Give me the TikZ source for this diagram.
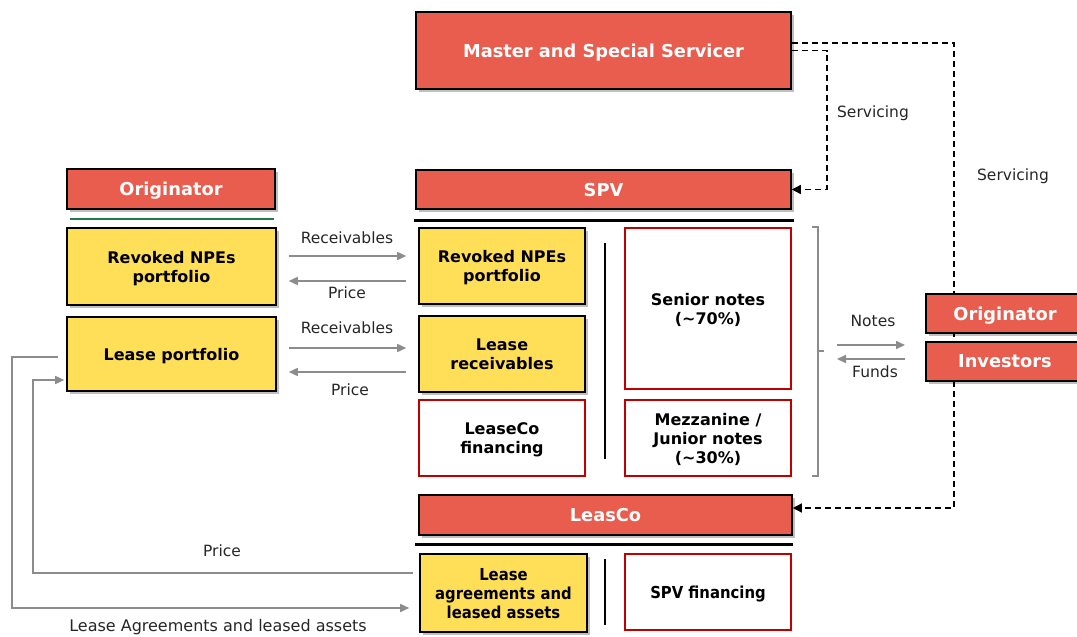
\documentclass[tikz,border=0pt]{standalone}
\usepackage{fontspec}
\setmainfont{DejaVu Sans}
\newfontfamily\condfont[FakeStretch=0.9]{DejaVu Sans}
\usetikzlibrary{shadows,arrows.meta}

\definecolor{hdrred}{HTML}{E95D4F}
\definecolor{assetyellow}{HTML}{FFDF57}
\definecolor{tranchered}{HTML}{C00000}
\definecolor{flowgray}{HTML}{8C8C8C}
\definecolor{rulegreen}{HTML}{1E7A4A}

\tikzset{
  boxshadow/.style={drop shadow={shadow xshift=2.5pt, shadow yshift=-2.5pt, opacity=0.25, fill=black}},
  header/.style={draw=black, line width=1.6pt, fill=hdrred, text=white, align=center, inner sep=0pt,
    text depth=0pt, font=\fontsize{17.8}{21}\selectfont\bfseries, boxshadow},
  asset/.style={draw=black, line width=1.6pt, fill=assetyellow, align=center, inner sep=0pt,
    text depth=0pt, font=\fontsize{16}{19}\selectfont\bfseries, boxshadow},
  tranche/.style={draw=tranchered, line width=1.3pt, fill=white, align=center, inner sep=0pt,
    text depth=0pt, font=\fontsize{16}{19}\selectfont\bfseries},
  condbold/.style={font=\condfont\fontsize{16.5}{19}\selectfont\bfseries},
  flow/.style={draw=flowgray, line width=1.6pt, -{Triangle[length=9pt,width=8pt]}},
  flowlbl/.style={font=\fontsize{15.5}{18}\selectfont, text=black!85, inner sep=0pt},
  svc/.style={draw=black, line width=1.5pt, dash pattern=on 6pt off 4pt, -{Triangle[length=9pt,width=9pt]}},
  rulebar/.style={draw=black, line width=3pt},
  bracketline/.style={draw=flowgray, line width=1.3pt},
}

\begin{document}
\begin{tikzpicture}[x=1pt, y=-1pt]
\useasboundingbox (0,0) rectangle (1077,637);
\clip (0,0) rectangle (1077,637);

% Servicer
\node[header, minimum width=375pt, minimum height=77pt] (mss) at (603.5,50.5) {Master and Special Servicer};

% Originator side
\node[header, minimum width=208pt, minimum height=40pt] (origL) at (171,189) {Originator};
\draw[draw=rulegreen, line width=1.5pt] (70,219) -- (274,219);
\node[asset, minimum width=209pt, minimum height=77pt] (npeL) at (171.5,266.5) {Revoked NPEs\\portfolio};
\node[asset, minimum width=209pt, minimum height=74pt] (leaseL) at (171.5,354) {Lease portfolio};

% SPV
\node[header, minimum width=375pt, minimum height=39pt] (spv) at (603.5,189.5) {SPV};
\draw[rulebar] (414,220) -- (794,220);
\node[asset, minimum width=166pt, minimum height=76pt] (npeS) at (502,266) {Revoked NPEs\\portfolio};
\node[asset, minimum width=166pt, minimum height=76pt] (lrec) at (502,354) {Lease\\receivables};
\node[tranche, minimum width=166pt, minimum height=76pt] (lcf) at (502,438) {LeaseCo\\financing};
\draw[draw=black, line width=2.5pt] (605,243) -- (605,459);
\node[tranche, minimum width=166pt, minimum height=161pt] (senior) at (708,308.5) {Senior notes\\(\textasciitilde70\%)};
\node[tranche, minimum width=166pt, minimum height=76pt] (mezz) at (708,438) {Mezzanine /\\Junior notes\\(\textasciitilde30\%)};

% Notes bracket
\draw[bracketline] (812,227) -- (818,227) -- (818,476) -- (812,476);
\draw[bracketline] (818,351) -- (824,351);

% LeasCo
\node[header, minimum width=373pt, minimum height=40pt] (leasco) at (605.5,515) {LeasCo};
\draw[rulebar] (415,544) -- (793,544);
\node[asset, condbold, minimum width=167pt, minimum height=78pt] (lagr) at (503.5,593) {Lease\\agreements and\\leased assets};
\draw[draw=black, line width=2.5pt] (605,559) -- (605,625);
\node[tranche, condbold, minimum width=166pt, minimum height=76pt] (spvf) at (708,592) {SPV financing};

% Servicing links (the investor boxes are drawn over them)
\draw[svc] ([yshift=7.5pt]mss.east) -| (954,508) -- ([yshift=7pt]leasco.east);
\draw[svc] (mss.east) -| (827,189.5) -- (spv.east);
\node[flowlbl] (svc1) at (873,113) {Servicing};
\node[flowlbl] (svc2) at (1013,176) {Servicing};

% Investors side
\node[header, minimum width=158pt, minimum height=39pt] (origR) at (1005,313.5) {Originator};
\node[header, minimum width=158pt, minimum height=39pt] (inv) at (1005,361.5) {Investors};

% Transfers between originator and SPV
\draw[flow, shorten <=12pt, shorten >=12pt] (npeL.east |- 0,256) -- (npeS.west |- 0,256);
\draw[flow, shorten <=12pt, shorten >=12pt] (npeS.west |- 0,281) -- (npeL.east |- 0,281);
\draw[flow, shorten <=12pt, shorten >=12pt] (leaseL.east |- 0,348) -- (lrec.west |- 0,348);
\draw[flow, shorten <=12pt, shorten >=12pt] (lrec.west |- 0,372) -- (leaseL.east |- 0,372);
\node[flowlbl] (rc1) at (347,238) {Receivables};
\node[flowlbl] (pr1) at (347,293) {Price};
\node[flowlbl] (rc2) at (347,328) {Receivables};
\node[flowlbl] (pr2) at (350,390) {Price};

% Notes and funds
\coordinate (nL) at (837,345);
\coordinate (nR) at (905,345);
\coordinate (fL) at (837,359);
\coordinate (fR) at (905,359);
\draw[flow] (nL) -- (nR);
\draw[flow] (fR) -- (fL);
\node[flowlbl] (notes) at (873,321) {Notes};
\node[flowlbl] (funds) at (875,372) {Funds};

% Lease agreements loop with LeasCo
\draw[flow, shorten <=8pt, shorten >=10pt] (leaseL.west |- 0,357) -| (12,608) -- (lagr.west |- 0,608);
\draw[flow, shorten <=6pt, shorten >=2pt] (lagr.west |- 0,573) -| (33,380) -- (leaseL.west |- 0,380);
\node[flowlbl] (pr3) at (222,551) {Price};
\node[flowlbl, font=\fontsize{16}{18}\selectfont] (lal) at (218,627) {Lease Agreements and leased assets};
\end{tikzpicture}
\end{document}
